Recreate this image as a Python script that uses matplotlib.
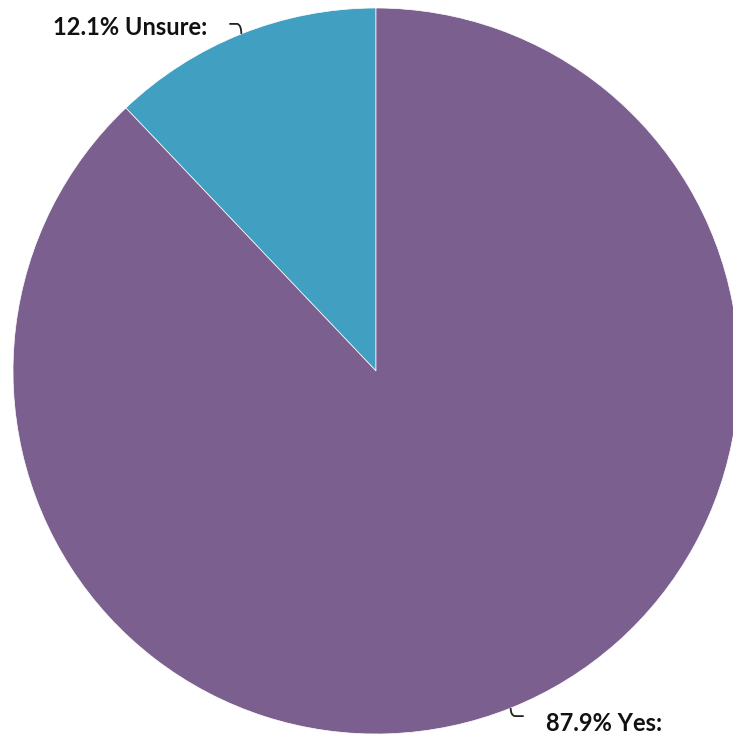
import numpy as np
import matplotlib.pyplot as plt
from matplotlib.path import Path
from matplotlib.patches import PathPatch

labels = ["Unsure", "Yes"]
shares = [12.1, 87.9]
colors = ["#41A0C1", "#7B5F8E"]

W, H = 733, 736
cx, cy, r = 376, H - 371, 363

fig = plt.figure(figsize=(W / 100, H / 100), dpi=100)
ax = fig.add_axes([0, 0, 1, 1])

wedges, _ = ax.pie(shares, colors=colors, startangle=90, counterclock=True,
                   center=(cx, cy), radius=r, frame=True,
                   wedgeprops=dict(edgecolor="white", linewidth=0.5))
ax.set_xlim(0, W)
ax.set_ylim(0, H)
ax.set_aspect("equal")
ax.axis("off")

# labels with small hooked leaders, placed from each wedge's mid angle
for w, lab, val in zip(wedges, labels, shares):
    mid = np.deg2rad((w.theta1 + w.theta2) / 2)
    ex, ey = cx + r * np.cos(mid), cy + r * np.sin(mid)
    sx = 1 if np.cos(mid) > 0 else -1
    sy = 1 if np.sin(mid) > 0 else -1
    if sx < 0:
        verts = [(ex, ey), (ex, ey + sy * 9), (ex - 4, ey + sy * 10), (ex - 12, ey + sy * 10)]
        ty = verts[-1][1] - 4
    else:
        verts = [(ex, ey), (ex, ey + sy * 7), (ex + 4, ey + sy * 8), (ex + 13, ey + sy * 8)]
        ty = verts[-1][1] - 7
    path = Path(verts, [Path.MOVETO, Path.CURVE3, Path.CURVE3, Path.LINETO])
    ax.add_patch(PathPatch(path, fill=False, color="#222222", lw=1.3))
    tx = verts[-1][0] + sx * 22
    ha = "left" if sx > 0 else "right"
    ax.text(tx, ty, f"{val}% {lab}:", ha=ha, va="center", fontsize=17,
            fontweight="bold", family=["Lato", "DejaVu Sans"], color="#111111")

fig.savefig("out.png", dpi=100)
